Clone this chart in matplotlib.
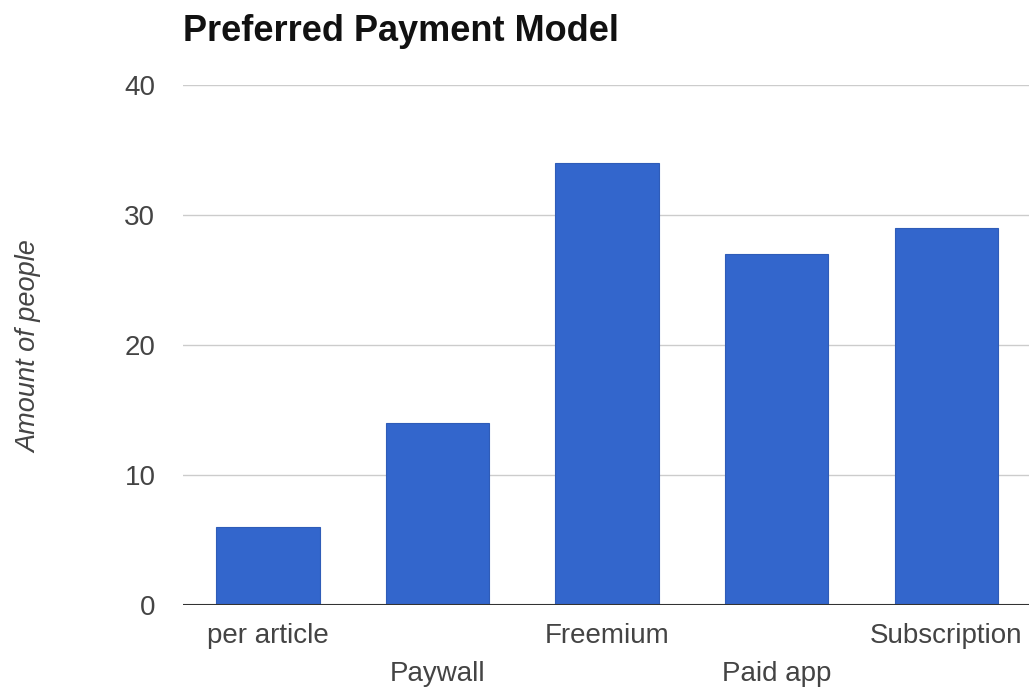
import numpy as np
import matplotlib
matplotlib.use('Agg')
import matplotlib.pyplot as plt
import matplotlib.transforms as mtransforms

plt.rcParams['font.family'] = ['Liberation Sans', 'DejaVu Sans']

# survey counts per payment model
models = ['per article', 'Paywall', 'Freemium', 'Paid app', 'Subscription']
people = [6, 14, 34, 27, 29]
yticks = [0, 10, 20, 30, 40]

fig = plt.figure(figsize=(10.29, 6.91), dpi=100)
ax = fig.add_axes([0.178, 0.1245, 0.824, 0.7525])

x = np.arange(len(models))
ax.bar(x, people, width=0.61, color='#3366cc', edgecolor='#2f5cb8', lw=0.8, zorder=3)

ax.set_xlim(-0.5, len(models) - 0.5)
ax.set_ylim(0, 40)
ax.set_yticks(yticks)
ax.set_yticklabels([str(t) for t in yticks], fontsize=20, color='#444444')
ax.tick_params(axis='y', length=0, pad=20)
ax.set_xticks([])

# gridlines, with a dark baseline at zero
ax.grid(axis='y', color='#cccccc', lw=1, zorder=0)
ax.axhline(0, color='#333333', lw=1.5, zorder=4)
for s in ax.spines.values():
    s.set_visible(False)

# category labels staggered on two rows
trans = mtransforms.blended_transform_factory(ax.transData, ax.transAxes)
for i, name in enumerate(models):
    ypos = -0.06 if i % 2 == 0 else -0.133
    ax.text(i, ypos, name, transform=trans, ha='center', va='center',
            fontsize=20, color='#444444')

ax.set_ylabel('Amount of people', fontsize=19.5, style='italic', color='#444444',
              labelpad=0)
ax.yaxis.set_label_coords(-0.166, 0.497)

fig.text(0.178, 0.955, 'Preferred Payment Model', fontsize=26, fontweight='bold',
         color='#111111', ha='left', va='center')

fig.savefig('out.png', dpi=100)
